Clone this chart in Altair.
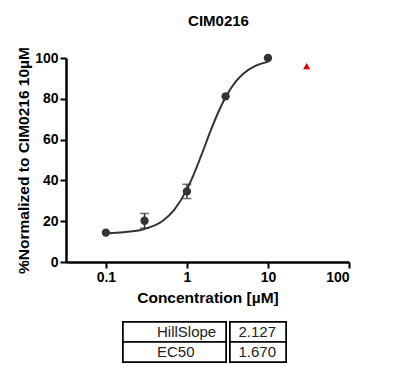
import altair as alt
import pandas as pd

# ---- data ----
conc = [0.1, 0.3, 1, 3, 10]
resp = [14.4, 20.2, 34.6, 81.2, 100.0]
sem = [0.0, 3.6, 3.5, 0.0, 0.0]
excl_conc = [30]
excl_resp = [96]
fit_conc = [0.1, 0.15, 0.2, 0.3, 0.5, 0.7, 1, 1.2, 1.5, 2, 2.5, 3, 4, 5, 7, 10]
fit_resp = [14.0, 14.5, 14.9, 16.2, 20.1, 25.7, 35.6, 42.5, 52.1, 65.2, 74.4, 80.8, 88.4, 92.4, 96.1, 98.1]
x_ticks = [0.1, 1, 10, 100]
y_ticks = [0, 20, 40, 60, 80, 100]
table_params = ["HillSlope", "EC50"]
table_values = ["2.127", "1.670"]
chart_title = "CIM0216"
x_title = "Concentration [µM]"
y_title = "%Normalized to CIM0216 10µM"

FONT = "Liberation Sans"
DARK = "#333333"

pts = pd.DataFrame({"conc": conc, "resp": resp, "sem": sem})
pts["lo"] = pts["resp"] - pts["sem"]
pts["hi"] = pts["resp"] + pts["sem"]
err = pts[pts["sem"] > 0]
fit = pd.DataFrame({"conc": fit_conc, "resp": fit_resp})
excl = pd.DataFrame({"conc": excl_conc, "resp": excl_resp})

xscale = alt.Scale(type="log", domain=[0.0322, 100], nice=False)
yscale = alt.Scale(domain=[0, 100], nice=False, zero=True)

X = alt.X("conc:Q", scale=xscale,
          axis=alt.Axis(values=x_ticks, format="~g", title=x_title))
Y = alt.Y("resp:Q", scale=yscale,
          axis=alt.Axis(values=y_ticks, title=y_title))

line = alt.Chart(fit).mark_line(color=DARK, strokeWidth=2, interpolate="monotone").encode(x=X, y=Y)
bars = alt.Chart(err).mark_rule(color=DARK, strokeWidth=1.5).encode(
    x=alt.X("conc:Q", scale=xscale), y=alt.Y("lo:Q", scale=yscale), y2="hi:Q")
cap_lo = alt.Chart(err).mark_tick(color=DARK, orient="horizontal", size=9, thickness=1.5).encode(
    x=alt.X("conc:Q", scale=xscale), y=alt.Y("lo:Q", scale=yscale))
cap_hi = alt.Chart(err).mark_tick(color=DARK, orient="horizontal", size=9, thickness=1.5).encode(
    x=alt.X("conc:Q", scale=xscale), y=alt.Y("hi:Q", scale=yscale))
dots = alt.Chart(pts).mark_circle(color=DARK, size=70, opacity=1).encode(x=X, y=Y)
tri = alt.Chart(excl).mark_point(shape="triangle-up", filled=True, color="#e00000",
                                 size=50, opacity=1).encode(x=X, y=Y)

main = alt.layer(line, bars, cap_lo, cap_hi, dots, tri).properties(
    width=283, height=204,
    title=alt.TitleParams(chart_title, font=FONT, fontSize=15, fontWeight="bold",
                          color="black", anchor="middle", dx=11, offset=18),
)

# ---- parameter table ----
tab = pd.DataFrame({"row": [0, 1], "param": table_params, "value": table_values})
rowY = alt.Y("row:O", axis=None, scale=alt.Scale(paddingInner=0, paddingOuter=0))


def column(field, w, align, xpos):
    cells = alt.Chart(tab).mark_rect(fill="white", stroke="black", strokeWidth=1.5).encode(y=rowY)
    txt = alt.Chart(tab).mark_text(font=FONT, fontSize=15, color="#222222", align=align,
                                   baseline="middle").encode(y=rowY, x=alt.value(xpos),
                                                             text=f"{field}:N")
    return alt.layer(cells, txt).properties(
        width=w, height=40, view=alt.ViewBackground(stroke="black", strokeWidth=2))


spacer = alt.Chart(pd.DataFrame({"s": [0]})).mark_point(opacity=0).properties(
    width=55, height=40, view=alt.ViewBackground(stroke=None))

table_row = alt.hconcat(spacer, column("param", 103, "left", 34),
                        column("value", 56, "right", 46), spacing=0)

chart = alt.vconcat(main, table_row, spacing=14).properties(
    padding={"left": 8, "top": 5, "right": 5, "bottom": 0}
).configure_view(stroke=None).configure_axis(
    grid=False, domainColor="black", domainWidth=2.5, tickColor="black", tickWidth=2,
    tickSize=6, labelFont=FONT, labelFontSize=14, labelFontWeight="bold", labelColor="black",
    labelPadding=2, titleFont=FONT, titleFontSize=15.5, titleFontWeight="bold",
    titleColor="black"
).configure_axisY(titlePadding=3).configure_axisX(titlePadding=6)

chart.save("out.html", embed_options={"renderer": "svg", "actions": False})
